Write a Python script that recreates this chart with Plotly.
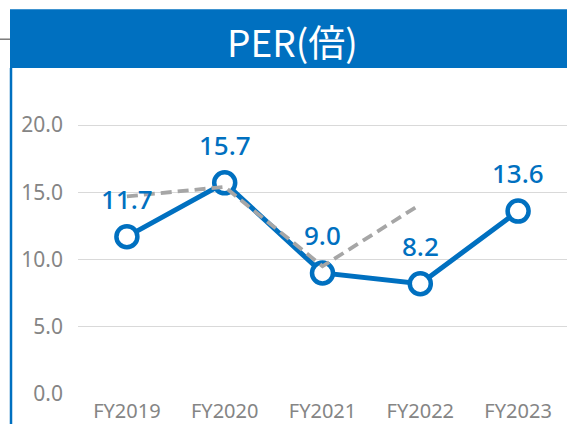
import plotly.graph_objects as go

# Data
years = ["FY2019", "FY2020", "FY2021", "FY2022", "FY2023"]
per = [11.7, 15.7, 9.0, 8.2, 13.6]
per_labels = ["11.7", "15.7", "9.0", "8.2", "13.6"]
ref_years = ["FY2019", "FY2020", "FY2021", "FY2022"]
ref_per = [14.7, 15.4, 9.5, 14.1]
y_ticks = [0, 5, 10, 15, 20]
y_tick_text = ["0.0", "5.0", "10.0", "15.0", "20.0"]

BLUE = "#0070C0"
GRAY_TXT = "#858585"

W, H = 567, 424
L, R, T, B = 78, 0, 68, 28
PW, PH = W - L - R, H - T - B


def px_x(x):
    return (x - L) / PW


def px_y(y):
    return (H - B - y) / PH


fig = go.Figure()

fig.add_trace(go.Scatter(
    x=years, y=per, mode="lines+markers",
    line=dict(color=BLUE, width=5),
    marker=dict(size=21, color="white", line=dict(color=BLUE, width=4.5)),
    hoverinfo="skip", showlegend=False,
))

fig.add_trace(go.Scatter(
    x=ref_years, y=ref_per, mode="lines",
    line=dict(color="#A6A6A6", width=3.8, dash="11px,6px"),
    hoverinfo="skip", showlegend=False,
))

# value labels above markers
for xv, yv, t in zip(years, per, per_labels):
    fig.add_annotation(
        x=xv, y=yv, text=t, showarrow=False, yshift=38,
        font=dict(family="Noto Sans", size=26, color=BLUE, weight=500),
    )

# header band and frame
fig.add_shape(type="rect", xref="paper", yref="paper",
              x0=px_x(10), x1=px_x(580), y0=px_y(68), y1=px_y(9),
              fillcolor=BLUE, line=dict(width=0), layer="above")
fig.add_shape(type="line", xref="paper", yref="paper",
              x0=px_x(0), x1=px_x(10), y0=px_y(39), y1=px_y(39),
              line=dict(color="#595959", width=1.2))
fig.add_shape(type="line", xref="paper", yref="paper",
              x0=px_x(11), x1=px_x(11), y0=px_y(68), y1=px_y(430),
              line=dict(color=BLUE, width=2.5))
fig.add_annotation(
    xref="paper", yref="paper", x=px_x(292), y=px_y(41),
    text="PER(倍)", showarrow=False, xanchor="center", yanchor="middle",
    font=dict(family="Noto Sans CJK JP", size=37, color="white"),
)

fig.update_layout(
    width=W, height=H,
    margin=dict(l=L, r=R, t=T, b=B),
    paper_bgcolor="white", plot_bgcolor="white",
    xaxis=dict(
        type="category", range=[-0.5, 4.5],
        showgrid=False, zeroline=False, showline=False,
        tickfont=dict(family="Noto Sans", size=20, color=GRAY_TXT),
        ticks="", ticklabelstandoff=3,
    ),
    yaxis=dict(
        range=[0, PH / 13.53], tickvals=y_ticks, ticktext=y_tick_text,
        showgrid=True, gridcolor="#D9D9D9", gridwidth=1.2,
        zeroline=False, showline=False, ticks="",
        tickfont=dict(family="Noto Sans", size=21, color=GRAY_TXT),
        ticklabelstandoff=14,
    ),
)

fig.write_html("out.html")
